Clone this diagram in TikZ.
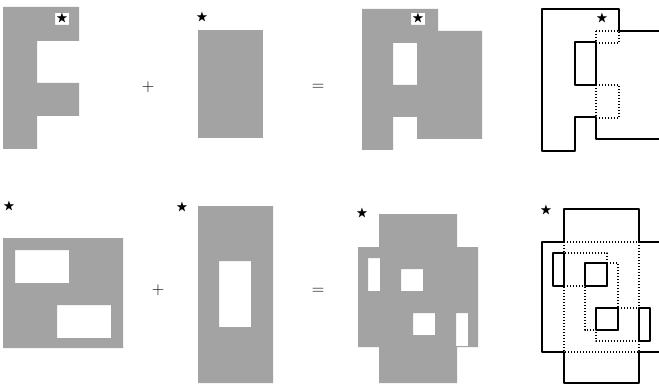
\documentclass[tikz,border=0pt]{standalone}
\usepackage{amssymb}

\begin{document}
\begin{tikzpicture}[x=1pt,y=-1pt,line join=round,
  shade/.style={fill=black!36},
  edge/.style={line width=1.1pt},
  dots/.style={line width=1.1pt,dash pattern=on 1.4pt off 1.6pt},
  starnode/.style={inner sep=0pt,font=\large},
  sign/.style={inner sep=0pt,font=\LARGE}]
  \useasboundingbox (0,0) rectangle (659,385);
  % top row: F + box = sum, and its outline
  \fill[shade,even odd rule] (3,7) -- (79,7) -- (79,41) -- (37,41) -- (37,83) -- (79,83) -- (79,116) -- (37,116) -- (37,149) -- (3,149) -- cycle
    (55,13) rectangle (69,25);
  \node[starnode] (fstar) at (62,19) {$\bigstar$};
  \node[sign] (plusA) at (148,87) {$+$};
  \fill[shade] (198,30) rectangle (263,138);
  \node[starnode] (boxstar) at (202,18) {$\bigstar$};
  \node[sign] (eqA) at (318,87) {$=$};
  \fill[shade,even odd rule] (362,9) -- (438,9) -- (438,31) -- (482,31) -- (482,139) -- (417,139) -- (417,117) -- (393,117) -- (393,150) -- (362,150) -- cycle
    (393,43) rectangle (417,85)
    (411,13) rectangle (425,25);
  \node[starnode] (sumstar) at (418,19) {$\bigstar$};
  \draw[edge] (659,31) -- (619,31) -- (619,9) -- (542,9) -- (542,151) -- (575,151) -- (575,117) -- (596,117) -- (596,139) -- (659,139);
  \draw[edge] (575,42) rectangle (596,85);
  \draw[dots] (596,31) rectangle (619,43);
  \draw[dots] (596,85) rectangle (619,118);
  \node[starnode] (linestar) at (602,19) {$\bigstar$};
  % bottom row
  \fill[shade,even odd rule] (3,238) rectangle (123,348)
    (15,250) rectangle (69,283)
    (57,305) rectangle (111,338);
  \node[starnode] (sqstar) at (9,207) {$\bigstar$};
  \node[sign] (plusB) at (158,290) {$+$};
  \fill[shade,even odd rule] (198,206) rectangle (273,383)
    (219,261) rectangle (251,327);
  \node[starnode] (tallstar) at (182,208) {$\bigstar$};
  \node[sign] (eqB) at (318,291) {$=$};
  \fill[shade,even odd rule] (379,214) -- (457,214) -- (457,247) -- (478,247) -- (478,347) -- (457,347) -- (457,383) -- (379,383) -- (379,347) -- (358,347) -- (358,247) -- (379,247) -- cycle
    (368,258) rectangle (380,291)
    (401,269) rectangle (423,291)
    (413,313) rectangle (435,335)
    (456,313) rectangle (468,346);
  \node[starnode] (crossstar) at (362,214) {$\bigstar$};
  \draw[edge] (659,242) -- (639,242) -- (639,209) -- (564,209) -- (564,242) -- (542,242) -- (542,352) -- (564,352) -- (564,383) -- (639,383) -- (639,352) -- (659,352);
  \draw[dots] (564,242) rectangle (639,352);
  \draw[dots] (564,253) rectangle (607,286);
  \draw[dots] (585,263) rectangle (618,330);
  \draw[dots] (596,308) rectangle (639,341);
  \draw[edge] (553,253) rectangle (564,286);
  \draw[edge] (585,263) rectangle (607,286);
  \draw[edge] (596,308) rectangle (618,330);
  \draw[edge] (639,308) rectangle (650,341);
  \node[starnode] (outstar) at (546,211) {$\bigstar$};
\end{tikzpicture}
\end{document}
